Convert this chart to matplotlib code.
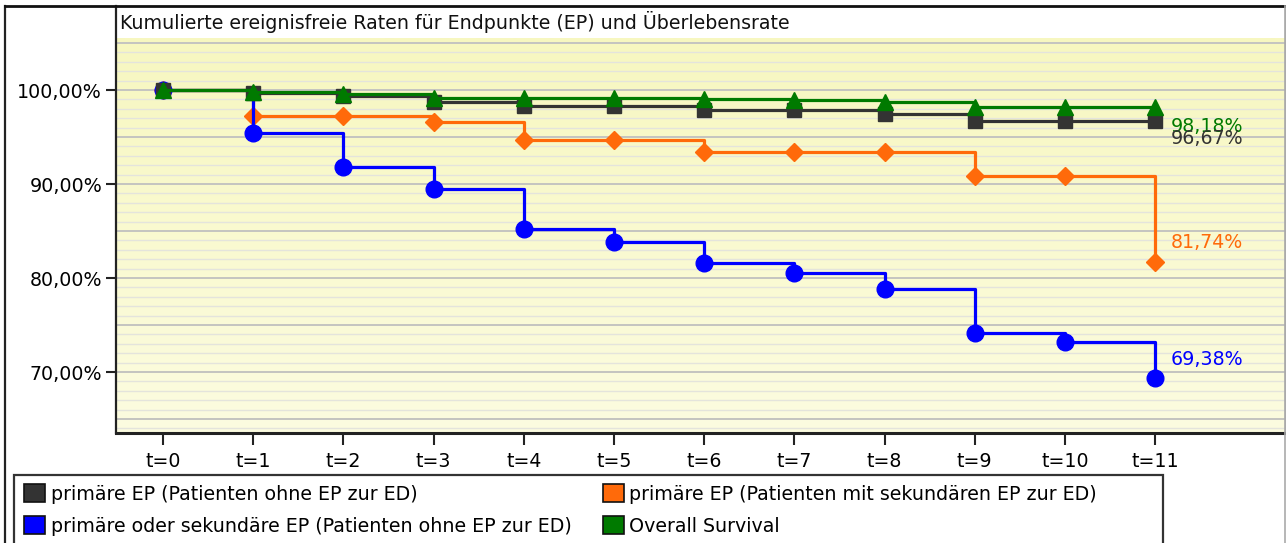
import numpy as np
import matplotlib
matplotlib.use("Agg")
import matplotlib.pyplot as plt
from matplotlib.patches import Patch, Rectangle
from matplotlib.lines import Line2D

plt.rcParams['font.family'] = ['DejaVu Sans']

# data (percent event-free)
t = list(range(12))
t_labels = ["t=%d" % i for i in t]
black_ep = [100, 99.64, 99.4, 98.76, 98.3, 98.3, 97.9, 97.9, 97.4, 96.67, 96.67, 96.67]
orange_ep = [100, 97.23, 97.23, 96.56, 94.65, 94.65, 93.44, 93.44, 93.44, 90.8, 90.8, 81.74]
blue_ep = [100, 95.46, 91.84, 89.43, 85.2, 83.8, 81.6, 80.5, 78.8, 74.1, 73.2, 69.38]
green_os = [100, 99.75, 99.54, 99.2, 99.1, 99.1, 99.0, 98.9, 98.76, 98.18, 98.18, 98.18]

names = ["primäre EP (Patienten ohne EP zur ED)",
         "primäre oder sekundäre EP (Patienten ohne EP zur ED)",
         "primäre EP (Patienten mit sekundären EP zur ED)",
         "Overall Survival"]
title = "Kumulierte ereignisfreie Raten für Endpunkte (EP) und Überlebensrate"

c_black, c_orange, c_blue, c_green = "#333333", "#ff6a0a", "#0000ff", "#007a00"

W, H = 1286, 543
fig = plt.figure(figsize=(W / 100, H / 100), dpi=100)
fig.patch.set_facecolor("white")
ax = fig.add_axes([116 / W, 1 - 433 / H, (1285 - 116) / W, (433 - 6) / H])

ymin, ymax = 63.51, 108.94
xmin, xmax = -0.52, 12.44
ytop_band = 105.53
ax.set_xlim(xmin, xmax)
ax.set_ylim(ymin, ymax)

# yellow gradient background + white title band
grad = np.linspace(0, 1, 256).reshape(-1, 1)
top_c = np.array([247, 247, 192]) / 255
bot_c = np.array([252, 252, 224]) / 255
img = top_c[None, None, :] * (1 - grad[:, :, None]) + bot_c[None, None, :] * grad[:, :, None]
ax.imshow(img, extent=[xmin, xmax, ymin, ytop_band], aspect="auto", origin="upper", zorder=0)
ax.axhspan(ytop_band, ymax, color="white", zorder=0.5, lw=0)

# grid: minor every 1 %, major every 5 %
for g in range(64, 106):
    if g % 5 == 0:
        ax.axhline(g, color="#c4c4c0", lw=1.4, zorder=0.6)
    else:
        ax.axhline(g, color="#e4e4dc", lw=1.0, zorder=0.6)

lw = 2.3
ax.plot(t, orange_ep, drawstyle="steps-post", color=c_orange, lw=lw, zorder=2)
ax.plot(t, orange_ep, ls="none", marker="D", ms=9, color=c_orange, zorder=2)
ax.plot(t, blue_ep, drawstyle="steps-post", color=c_blue, lw=lw, zorder=3)
ax.plot(t, blue_ep, ls="none", marker="o", ms=12, color=c_blue, zorder=3)
ax.plot(t, black_ep, drawstyle="steps-post", color=c_black, lw=lw, zorder=4)
ax.plot(t, black_ep, ls="none", marker="s", ms=10.5, color=c_black, zorder=4)
ax.plot(t, green_os, drawstyle="steps-post", color=c_green, lw=lw, zorder=5)
ax.plot(t, green_os, ls="none", marker="^", ms=11.5, color=c_green, zorder=5)

# end labels (the two top ones overlap slightly, as in the original)
fs = 13.7
ends = [(green_os, c_green, -14), (black_ep, c_black, -12.5),
        (orange_ep, c_orange, 14), (blue_ep, c_blue, 13)]
for series, col, dy in ends:
    ax.annotate(("%.2f%%" % series[-1]).replace(".", ","), (t[-1], series[-1]),
                xytext=(11, dy), textcoords="offset points", color=col,
                fontsize=fs, ha="left", va="center", zorder=6)

ax.text(4 / (1285 - 116), 1 - 16 / 427, title, transform=ax.transAxes,
        fontsize=fs, ha="left", va="center", color="#111111", zorder=6)

yt = [70, 80, 90, 100]
ax.set_yticks(yt)
ax.set_yticklabels(["%d,00%%" % v for v in yt])
ax.set_xticks(t)
ax.set_xticklabels(t_labels)
ax.tick_params(axis="y", length=7, width=1.5, pad=3, labelsize=fs, color="#222222")
ax.tick_params(axis="x", length=8.5, width=1.5, pad=5, labelsize=fs, color="#222222")

ax.spines["top"].set_visible(False)
ax.spines["right"].set_color("#aaaaaa")
ax.spines["left"].set_linewidth(1.6)
ax.spines["bottom"].set_linewidth(2.2)
ax.spines["left"].set_color("#222222")
ax.spines["bottom"].set_color("#222222")

# outer frame
fig.add_artist(Line2D([5 / W, 5 / W], [0, 1 - 6 / H], color="#222222", lw=1.6))
fig.add_artist(Line2D([5 / W, 1], [1 - 6 / H, 1 - 6 / H], color="#111111", lw=2.0))
fig.add_artist(Line2D([1285 / W, 1285 / W], [0, 1 - 6 / H], color="#aaaaaa", lw=1.2))

# legend box
fig.add_artist(Rectangle((14 / W, -0.05), (1163 - 14) / W, 0.05 + 1 - 475 / H,
                         transform=fig.transFigure, fill=False, ec="#333333", lw=1.6))
handles = [Patch(facecolor=c, edgecolor="#111111", lw=1.2)
           for c in [c_black, c_blue, c_orange, c_green]]
fig.legend(handles, names, loc="upper left", bbox_to_anchor=(24 / W, 1 - 484 / H),
           ncol=2, frameon=False, fontsize=fs, borderpad=0, borderaxespad=0,
           handlelength=1.1, handleheight=1.1, handletextpad=0.3,
           labelspacing=0.65, columnspacing=1.65)

fig.savefig("out.png", dpi=100)
